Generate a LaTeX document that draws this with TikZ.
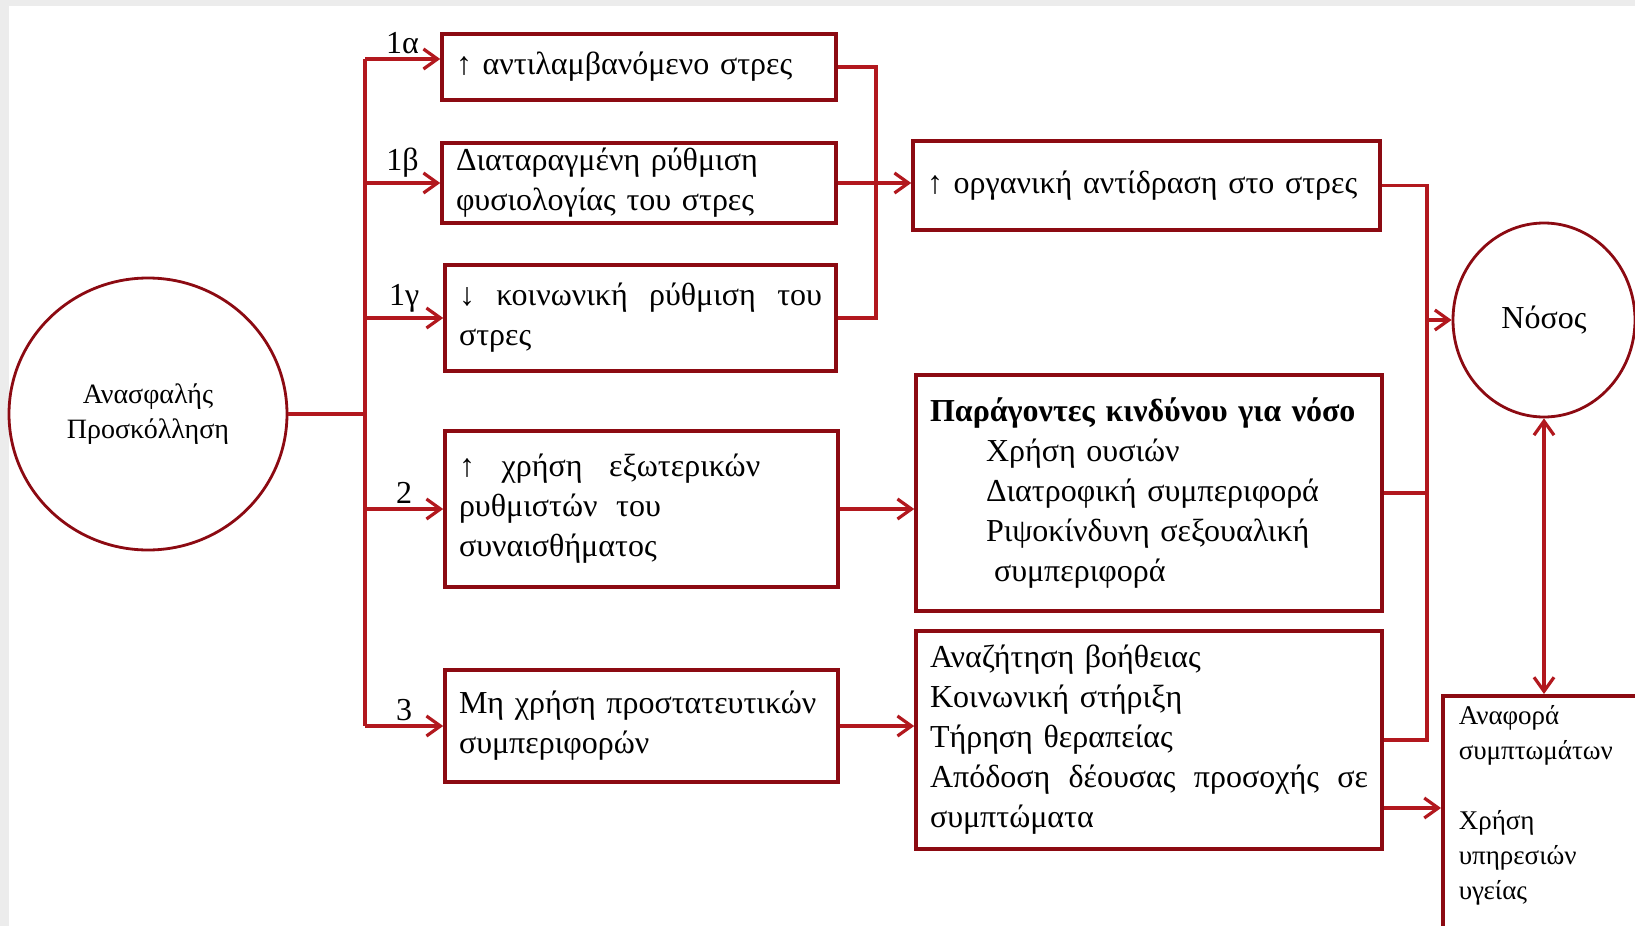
\documentclass[tikz,border=0pt]{standalone}
\usepackage{fontspec}
\setmainfont{Liberation Serif}
\usepackage{tikz}
\usetikzlibrary{arrows.meta}
\usetikzlibrary{shapes.geometric}
\setlength{\parindent}{0pt}
\definecolor{linered}{RGB}{178,24,30}
\definecolor{boxred}{RGB}{140,10,18}
\definecolor{pagegray}{RGB}{236,236,236}
\tikzset{>={Straight Barb[length=7pt,width=10pt]}}
\tikzstyle{box} = [rectangle, draw=boxred, line width=1.8pt, inner xsep=7pt, inner ysep=2pt, align=left, font=\fontsize{16}{20}\selectfont]
\tikzstyle{oval} = [ellipse, draw=boxred, line width=1.4pt, align=center, inner sep=0pt]
\tikzstyle{link} = [draw=linered, line width=1.6pt]
\tikzstyle{num} = [font=\fontsize{16}{18}\selectfont, inner sep=2pt]
\newcommand{\ind}{\hspace*{28pt}}

\begin{document}
\begin{tikzpicture}[x=0.5pt, y=-0.5pt]
\useasboundingbox (0,0) rectangle (1635,926);
\clip (0,0) rectangle (1635,926);
\fill [pagegray] (0,0) rectangle (1635,926);
\fill [white] (9,6) rectangle (1635,926);

\node [oval, minimum width=139pt, minimum height=136pt, font=\fontsize{14}{17.5}\selectfont] (Ins) at (148,414) {Ανασφαλής\\Προσκόλληση};
\node [box, text width=183pt, minimum height=33pt] (A1a) at (639,67) {↑ αντιλαμβανόμενο στρες};
\node [box, text width=183pt, minimum height=40pt] (A1b) at (639,183) {Διαταραγμένη ρύθμιση\\φυσιολογίας του στρες};
\node [box, text width=181.5pt, minimum height=53pt] (A1c) at (640.5,318) {↓\hfill κοινωνική\hfill ρύθμιση\hfill του\\στρες};
\node [box, text width=182.5pt, minimum height=78pt] (B2) at (641.5,509) {↑\hspace{8pt} χρήση\hspace{8pt} εξωτερικών\\ρυθμιστών\hspace{4pt} του\\συναισθήματος};
\node [box, text width=182.5pt, minimum height=56pt] (B3) at (641.5,726) {Μη χρήση προστατευτικών\\συμπεριφορών};
\node [box, text width=219.5pt, minimum height=44.5pt] (Org) at (1146.5,185.5) {↑ οργανική αντίδραση στο στρες};
\node [box, text width=219pt, minimum height=118pt] (Rsk) at (1149,493) {\textbf{Παράγοντες κινδύνου για νόσο}\\\ind Χρήση ουσιών\\\ind Διατροφική συμπεριφορά\\\ind Ριψοκίνδυνη σεξουαλική\\\hspace*{32pt}συμπεριφορά};
\node [box, text width=219pt, minimum height=109pt] (Hlp) at (1149,740) {Αναζήτηση βοήθειας\\Κοινωνική στήριξη\\Τήρηση θεραπείας\\Απόδοση\hfill δέουσας\hfill προσοχής\hfill σε\\συμπτώματα};
\node [oval, minimum width=91pt, minimum height=97pt, font=\fontsize{16}{18}\selectfont] (Nos) at (1544,320) {Νόσος};
\node [box, anchor=north west, text width=115pt, inner xsep=8pt, inner ysep=5pt, font=\fontsize{13.5}{17.5}\selectfont] (Sym) at (1441,694) {Αναφορά\\συμπτωμάτων\\[17.5pt]Χρήση\\υπηρεσιών\\υγείας\\[40pt]\mbox{}};

\coordinate (top) at (365,59);
\coordinate (bot) at (B3.west -| top);
\coordinate (mid1) at (876,0);
\coordinate (mid2) at (1427,0);

\draw [link] (Ins.east) -- (Ins.east -| top);
\draw [link] (top) -- (bot);
\draw [link, ->] (top) -- (top -| A1a.west) node [num, midway, above] {1α};
\draw [link, ->] (A1b.west -| top) -- (A1b.west) node [num, midway, above] {1β};
\draw [link, ->] (A1c.west -| top) -- (A1c.west) node [num, midway, above] {1γ};
\draw [link, ->] (B2.west -| top) -- (B2.west) node [num, midway, above] {2};
\draw [link, ->] (bot) -- (B3.west) node [num, midway, above] {3};

\draw [link] (A1a.east) -- (A1a.east -| mid1) -- (A1c.east -| mid1) -- (A1c.east);
\draw [link, ->] (A1b.east) -- (A1b.east -| Org.west);
\draw [link, ->] (B2.east) -- (B2.east -| Rsk.west);
\draw [link, ->] (B3.east) -- (B3.east -| Hlp.west);

\draw [link] (Org.east) -- (Org.east -| mid2) -- (Hlp.east -| mid2) -- (Hlp.east);
\draw [link] (Rsk.east) -- (Rsk.east -| mid2);
\draw [link, ->] (Nos.west -| mid2) -- (Nos.west);
\draw [link, ->] ([yshift=-34pt]Hlp.east) -- ([yshift=-34pt]Hlp.east -| Sym.west);
\draw [link, <->] (Nos.south) -- (Nos.south |- Sym.north);
\end{tikzpicture}
\end{document}
